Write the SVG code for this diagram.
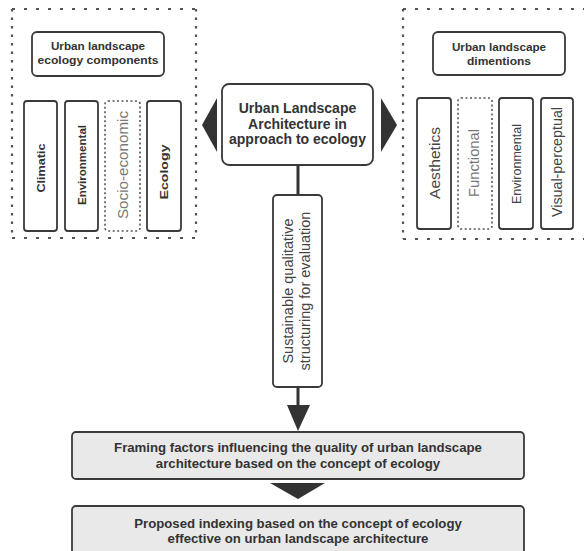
<svg xmlns="http://www.w3.org/2000/svg" width="584" height="551" viewBox="0 0 584 551">
<style>
.box{fill:#fff;stroke:#3a3a3a;stroke-width:1.8}
.dotbox{fill:#fff;stroke:#555;stroke-width:1.6;stroke-dasharray:2 2.5}
.gbox{fill:#e9e9e9;stroke:#3a3a3a;stroke-width:1.8}
.frameH{stroke:#555;stroke-width:2.2;stroke-dasharray:3 9;fill:none}
.frameV{stroke:#555;stroke-width:2.2;stroke-dasharray:2.5 6;fill:none}
.tb{font-family:"Liberation Sans",Arial,sans-serif;font-weight:bold;fill:#333;text-anchor:middle}
.tr{font-family:"Liberation Sans",Arial,sans-serif;fill:#444;text-anchor:middle}
.tl{font-family:"Liberation Sans",Arial,sans-serif;fill:#777;text-anchor:middle}
.head{fill:#333;stroke:none}
.line{stroke:#333;stroke-width:3;fill:none}
</style>
<rect width="584" height="551" fill="#fff"/>
<g id="components-frame">
<line class="frameH" x1="12" y1="9" x2="196" y2="9"/>
<line class="frameH" x1="12" y1="238" x2="196" y2="238"/>
<line class="frameV" x1="12" y1="9" x2="12" y2="238"/>
<line class="frameV" x1="196" y1="9" x2="196" y2="238"/>
</g>
<g id="dimensions-frame">
<line class="frameH" x1="403" y1="9" x2="590" y2="9"/>
<line class="frameH" x1="403" y1="239" x2="590" y2="239"/>
<line class="frameV" x1="403" y1="9" x2="403" y2="239"/>
</g>
<g id="components-title">
<rect class="box" x="32" y="32" width="132" height="44" rx="5"/>
<text class="tb" font-size="11.7" x="98" y="50">Urban landscape</text>
<text class="tb" font-size="11.7" x="98" y="64" textLength="121" lengthAdjust="spacingAndGlyphs">ecology components</text>
</g>
<g id="climatic">
<rect class="box" x="24" y="101" width="33" height="130" rx="3"/>
<text class="tb" font-size="11.5" transform="translate(44.5,168) rotate(-90)" textLength="49" lengthAdjust="spacingAndGlyphs">Climatic</text>
</g>
<g id="environmental-l">
<rect class="box" x="65" y="101" width="33" height="130" rx="3"/>
<text class="tb" font-size="11.5" transform="translate(85.5,165) rotate(-90)" textLength="80" lengthAdjust="spacingAndGlyphs">Environmental</text>
</g>
<g id="socio-economic">
<rect class="dotbox" x="105" y="101" width="35" height="130" rx="3"/>
<text class="tl" font-size="14.5" transform="translate(127.5,165) rotate(-90)" textLength="108" lengthAdjust="spacingAndGlyphs">Socio-economic</text>
</g>
<g id="ecology">
<rect class="box" x="147" y="101" width="34" height="130" rx="3"/>
<text class="tb" font-size="11.5" transform="translate(168,172) rotate(-90)" textLength="55" lengthAdjust="spacingAndGlyphs">Ecology</text>
</g>
<g id="dimensions-title">
<rect class="box" x="433" y="32" width="132" height="43" rx="5"/>
<text class="tb" font-size="11.7" x="499" y="51">Urban landscape</text>
<text class="tb" font-size="11.7" x="499" y="65" textLength="64" lengthAdjust="spacingAndGlyphs">dimentions</text>
</g>
<g id="aesthetics">
<rect class="box" x="417" y="98" width="34" height="131" rx="3"/>
<text class="tr" font-size="14.5" transform="translate(440,163) rotate(-90)" textLength="72" lengthAdjust="spacingAndGlyphs">Aesthetics</text>
</g>
<g id="functional">
<rect class="dotbox" x="458" y="98" width="34" height="131" rx="3"/>
<text class="tl" font-size="14.5" transform="translate(479,163) rotate(-90)" textLength="68" lengthAdjust="spacingAndGlyphs">Functional</text>
</g>
<g id="environmental-r">
<rect class="box" x="499" y="98" width="34" height="131" rx="3"/>
<text class="tr" font-size="13" transform="translate(520.5,164) rotate(-90)" textLength="80" lengthAdjust="spacingAndGlyphs">Environmental</text>
</g>
<g id="visual-perceptual">
<rect class="box" x="541" y="98" width="32" height="131" rx="3"/>
<text class="tr" font-size="14" transform="translate(561.5,162) rotate(-90)" textLength="110" lengthAdjust="spacingAndGlyphs">Visual-perceptual</text>
</g>
<g id="connectors">
<polygon class="head" points="202,125 217,98 217,152"/>
<polygon class="head" points="397,125 381,98 381,152"/>
<line class="line" x1="298" y1="165" x2="298" y2="195"/>
<line class="line" x1="298" y1="387" x2="298" y2="410"/>
<polygon class="head" points="287,405 310,405 298,431"/>
<polygon class="head" points="270,483 325,483 298,499"/>
</g>
<g id="center">
<rect class="box" x="222" y="84" width="151" height="81" rx="7"/>
<text class="tb" font-size="14" x="297.5" y="113">Urban Landscape</text>
<text class="tb" font-size="14" x="297.5" y="128.5">Architecture in</text>
<text class="tb" font-size="14" x="297.5" y="144">approach to ecology</text>
</g>
<g id="structuring">
<rect class="box" x="273" y="195" width="49" height="192" rx="4"/>
<text class="tr" font-size="14.5" transform="translate(293,291) rotate(-90)">Sustainable qualitative</text>
<text class="tr" font-size="14.5" transform="translate(310,291) rotate(-90)">structuring for evaluation</text>
</g>
<g id="framing">
<rect class="gbox" x="72" y="432" width="452" height="47" rx="4"/>
<text class="tb" font-size="13.2" x="298" y="452">Framing factors influencing the quality of urban landscape</text>
<text class="tb" font-size="13.2" x="298" y="468">architecture based on the concept of ecology</text>
</g>
<g id="indexing">
<rect class="gbox" x="72" y="506" width="452" height="60" rx="4"/>
<text class="tb" font-size="13.2" x="298" y="528">Proposed indexing based on the concept of ecology</text>
<text class="tb" font-size="13.2" x="298" y="543">effective on urban landscape architecture</text>
</g>
</svg>
